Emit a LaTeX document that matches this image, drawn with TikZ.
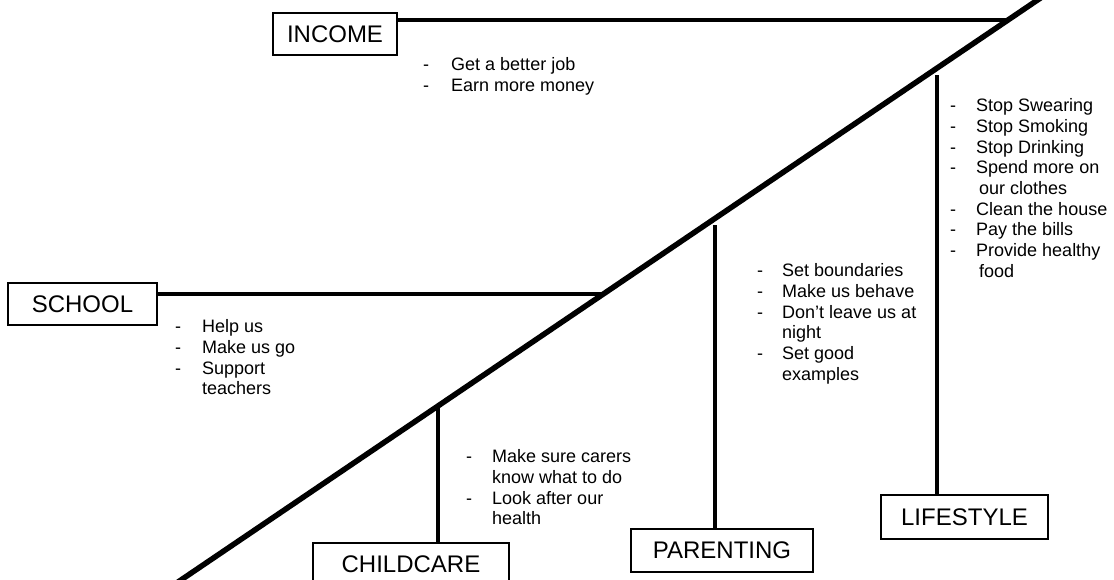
\documentclass[tikz,border=0pt]{standalone}
\usepackage{fontspec}
\setmainfont{Liberation Sans}
\usepackage{array}
\begin{document}
\begin{tikzpicture}[x=1pt,y=-1pt,
  box/.style={draw, line width=2pt, inner sep=0pt, font=\fontsize{24}{24}\selectfont},
  diag/.style={line width=5.5pt},
  branch/.style={line width=3.8pt},
  items/.style={anchor=north west, inner sep=0pt, font=\fontsize{18}{20.7}\selectfont}]
\fill[white] (0,0) rectangle (1114,579);
\useasboundingbox (0,0) rectangle (1114,579);

% boxes
\node[box, minimum width=124pt, minimum height=42pt] (income) at (335,34) {INCOME};
\node[box, minimum width=149pt, minimum height=42pt] (school) at (82.5,304) {SCHOOL};
\node[box, minimum width=196pt, minimum height=43pt] (childcare) at (411,564.5) {CHILDCARE};
\node[box, minimum width=182pt, minimum height=43pt] (parenting) at (722,550.5) {PARENTING};
\node[box, minimum width=167pt, minimum height=44pt] (lifestyle) at (964.5,517) {LIFESTYLE};

% spine
\coordinate (spineA) at (178,582);
\coordinate (spineB) at (1042,-3);
\draw[diag] (spineA) -- (spineB);

% junctions
\coordinate (incj) at (1008,20);
\coordinate (schj) at (604,294);
\coordinate (ccj) at (438,406);
\coordinate (parj) at (715,225);
\coordinate (lifej) at (937,75);

\draw[branch] (incj) -- (incj -| income.east);
\draw[branch] (schj) -- (schj -| school.east);
\draw[branch] (ccj) -- (ccj |- childcare.north);
\draw[branch] (parj) -- (parj |- parenting.north);
\draw[branch] (lifej) -- (lifej |- lifestyle.north);

% item lists
\node[items] (incomelist) at (423,56) {\begin{tabular}{@{}p{28pt}@{}l@{}}
-&Get a better job\\
-&Earn more money
\end{tabular}};

\node[items] (lifelist) at (950,97) {\begin{tabular}{@{}p{26pt}@{}l@{}}
-&Stop Swearing\\
-&Stop Smoking\\
-&Stop Drinking\\
-&Spend more on\\
&\hspace{3pt}our clothes\\
-&Clean the house\\
-&Pay the bills\\
-&Provide healthy\\
&\hspace{3pt}food
\end{tabular}};

\node[items] (schoollist) at (175,318) {\begin{tabular}{@{}p{27pt}@{}l@{}}
-&Help us\\
-&Make us go\\
-&Support\\
&teachers
\end{tabular}};

\node[items] (parentlist) at (757,262) {\begin{tabular}{@{}p{25pt}@{}l@{}}
-&Set boundaries\\
-&Make us behave\\
-&Don’t leave us at\\
&night\\
-&Set good\\
&examples
\end{tabular}};

\node[items] (childlist) at (466,448) {\begin{tabular}{@{}p{26pt}@{}l@{}}
-&Make sure carers\\
&know what to do\\
-&Look after our\\
&health
\end{tabular}};
\end{tikzpicture}
\end{document}
